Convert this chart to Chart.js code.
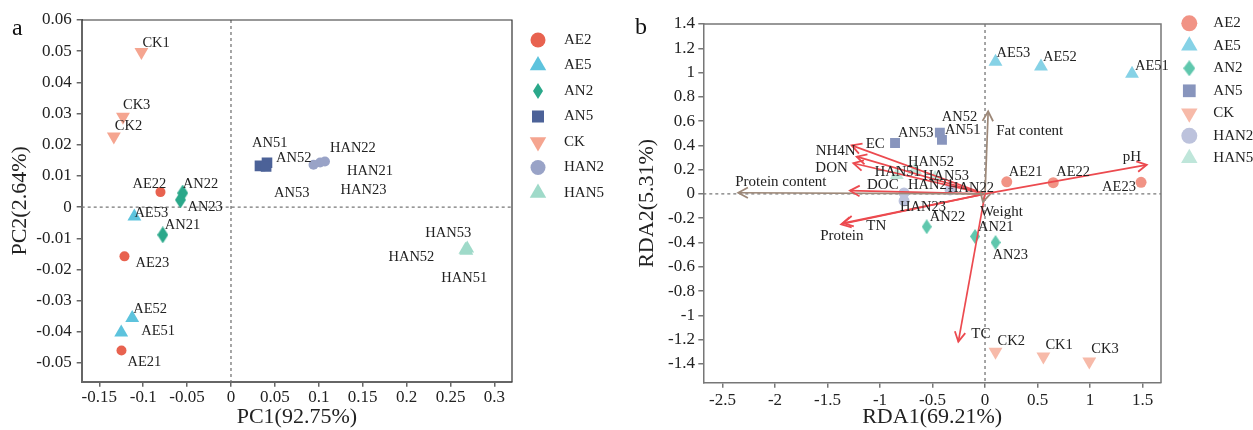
<!DOCTYPE html>
<html>
<head>
<meta charset="utf-8">
<script src="https://cdn.jsdelivr.net/npm/chart.js@4.4.1/dist/chart.umd.min.js"></script>
<style>
  body { margin: 0; background: #fff; width: 1253px; height: 430px; position: relative; overflow: hidden; }
  canvas { position: absolute; top: 0; }
  #chartA { left: 0; }
  #chartB { left: 626px; }
</style>
</head>
<body>
<canvas id="chartA" width="626" height="430"></canvas>
<canvas id="chartB" width="627" height="430"></canvas>
<script>
const FONT = "'Liberation Serif', 'Times New Roman', serif";

// groups, in legend order; every group has samples 1, 2, 3 (AE21, AE22, AE23 ...)
const groupNames = ["AE2", "AE5", "AN2", "AN5", "CK", "HAN2", "HAN5"];

// ---- panel a: PCA scores [PC1, PC2] ----
const pcaAE2 = [[-0.1247, -0.046], [-0.0803, 0.0048], [-0.1213, -0.0158]];
const pcaAE5 = [[-0.125, -0.0402], [-0.1125, -0.0356], [-0.110, -0.003]];
const pcaAN2 = [[-0.0777, -0.0089], [-0.055, 0.0045], [-0.0576, 0.0023]];
const pcaAN5 = [[0.033, 0.0132], [0.041, 0.0142], [0.040, 0.0130]];
const pcaCK = [[-0.102, 0.0497], [-0.1334, 0.0226], [-0.123, 0.029]];
const pcaHAN2 = [[0.1015, 0.0143], [0.107, 0.0146], [0.094, 0.0136]];
const pcaHAN5 = [[0.268, -0.0140], [0.267, -0.0137], [0.269, -0.0133]];
const pcaXTicks = [-0.15, -0.1, -0.05, 0, 0.05, 0.1, 0.15, 0.2, 0.25, 0.3];
const pcaYTicks = [-0.05, -0.04, -0.03, -0.02, -0.01, 0, 0.01, 0.02, 0.03, 0.04, 0.05, 0.06];

// ---- panel b: RDA site scores [RDA1, RDA2] ----
const rdaAE2 = [[0.207, 0.10], [0.65, 0.093], [1.486, 0.096]];
const rdaAE5 = [[1.40, 0.99], [0.533, 1.05], [0.10, 1.09]];
const rdaAN2 = [[-0.095, -0.35], [-0.555, -0.27], [0.10, -0.40]];
const rdaAN5 = [[-0.41, 0.445], [-0.43, 0.505], [-0.857, 0.42]];
const rdaCK = [[0.556, -1.34], [0.10, -1.30], [0.993, -1.38]];
const rdaHAN2 = [[-0.771, 0.008], [-0.333, 0.033], [-0.771, -0.058]];
const rdaHAN5 = [[-0.84, 0.156], [-0.667, 0.198], [-0.476, 0.132]];
// environmental / quality vectors
const rdaVarNames = ["pH", "Fat content", "Protein content", "EC", "NH4N", "DON", "DOC", "TN", "Protein", "TC", "Weight"];
const rdaVarX = [1.54, 0.03, -2.35, -1.27, -1.222, -1.254, -1.286, -1.35, -1.37, -0.254, -0.02];
const rdaVarY = [0.24, 0.68, 0.01, 0.40, 0.307, 0.253, 0.027, -0.24, -0.25, -1.217, -0.066];
const rdaVarIsQuality = [false, true, true, false, false, false, false, false, false, false, true];
const rdaXTicks = [-2.5, -2, -1.5, -1, -0.5, 0, 0.5, 1, 1.5];
const rdaYTicks = [-1.4, -1.2, -1, -0.8, -0.6, -0.4, -0.2, 0, 0.2, 0.4, 0.6, 0.8, 1, 1.2, 1.4];

// label placement (pixel offsets from the marker / arrow tip)
const pcaLabelOffsets = {
  AE21: [6, 12], AE22: [-28, -8], AE23: [11, 7],
  AE51: [20, -1], AE52: [1, -9], AE53: [0, -3],
  AN21: [2, -10], AN22: [0, -9], AN23: [7, 7],
  AN51: [-8, -23], AN52: [9, -5], AN53: [8, 27],
  CK1: [1, -9], CK2: [1, -10], CK3: [0, -11],
  HAN21: [27, 9], HAN22: [5, -13], HAN23: [27, 26],
  HAN51: [-25, 27], HAN52: [-77, 7], HAN53: [-42, -15]
};
const rdaLabelOffsets = {
  AE21: [2, -10], AE22: [3, -10], AE23: [-39, 5],
  AE51: [3, -8], AE52: [2, -9], AE53: [1, -8],
  AN21: [3, -9], AN22: [3, -10], AN23: [-3, 13],
  AN51: [3, -10], AN52: [2, -15], AN53: [3, -10],
  CK1: [2, -11], CK2: [2, -11], CK3: [2, -12],
  HAN21: [4, -8], HAN22: [-2, -2], HAN23: [-4, 6],
  HAN51: [-22, -3], HAN52: [-7, -8], HAN53: [-12, -2],
  "pH": [-24, -8], "Fat content": [8, 20], "Protein content": [-3, -11],
  "EC": [14, -1], "NH4N": [-41, -6], "DON": [-38, 5], "DOC": [17, -6],
  "TN": [23, 3], "Protein": [-21, 12], "TC": [13, -8], "Weight": [-3, 10]
};

const colorsA = ["#e8624f", "#5dc3dd", "#2aa88a", "#4c6298", "#f5a590", "#99a3c7", "#9fdac9"];
const colorsB = ["#f19385", "#86d2e6", "#5fc7ad", "#8895bd", "#f7baa9", "#bcc2dc", "#bfe6da"];

function diamond(color, w, h) {
  const c = document.createElement("canvas");
  c.width = w; c.height = h;
  const g = c.getContext("2d");
  g.fillStyle = color;
  g.beginPath();
  g.moveTo(w / 2, 0); g.lineTo(w, h / 2); g.lineTo(w / 2, h); g.lineTo(0, h / 2);
  g.closePath(); g.fill();
  return c;
}

function marker(group, color, s) {
  switch (group) {
    case "AE2": case "HAN2": return { pointStyle: "circle", radius: s.circle, rotation: 0 };
    case "AE5": case "HAN5": return { pointStyle: "triangle", radius: s.tri, rotation: 0 };
    case "CK": return { pointStyle: "triangle", radius: s.tri, rotation: 180 };
    case "AN5": return { pointStyle: "rect", radius: s.rect, rotation: 0 };
    default: return { pointStyle: diamond(color, s.dia[0], s.dia[1]), radius: s.circle, rotation: 0 };
  }
}

function sampleSets(points, colors, sizes, legendSizes) {
  return groupNames.map((g, k) => {
    const m = marker(g, colors[k], sizes);
    return {
      label: g,
      names: points[k].map((_, i) => g + (i + 1)),
      data: points[k].map(([x, y]) => ({ x, y })),
      pointStyle: m.pointStyle,
      pointRadius: m.radius,
      pointRotation: m.rotation,
      backgroundColor: colors[k],
      borderColor: colors[k],
      borderWidth: 0,
      legendMarker: marker(g, colors[k], legendSizes),
      order: 2
    };
  });
}

const overlay = {
  id: "overlay",
  beforeDatasetsDraw(chart, args, o) {
    const { ctx, chartArea: a, scales: { x, y } } = chart;
    const x0 = x.getPixelForValue(0), y0 = y.getPixelForValue(0);
    ctx.save();
    ctx.setLineDash([3, 3]);
    ctx.strokeStyle = "#777";
    ctx.lineWidth = 1.3;
    ctx.beginPath();
    ctx.moveTo(x0, a.top); ctx.lineTo(x0, a.bottom);
    ctx.moveTo(a.left, y0); ctx.lineTo(a.right, y0);
    ctx.stroke();
    ctx.restore();
  },
  afterDatasetsDraw(chart, args, o) {
    const { ctx, chartArea: a } = chart;
    ctx.save();
    // top and right frame
    ctx.strokeStyle = o.frameColor;
    ctx.lineWidth = o.frameWidth;
    ctx.beginPath();
    ctx.moveTo(a.left, a.top); ctx.lineTo(a.right, a.top); ctx.lineTo(a.right, a.bottom);
    ctx.stroke();

    ctx.textAlign = "left";
    ctx.textBaseline = "middle";
    ctx.fillStyle = "#222";
    chart.data.datasets.forEach((ds, di) => {
      const meta = chart.getDatasetMeta(di);
      if (ds.isArrow) {
        const p0 = meta.data[0], p1 = meta.data[1];
        const ang = Math.atan2(p1.y - p0.y, p1.x - p0.x);
        ctx.strokeStyle = ds.borderColor;
        ctx.lineWidth = 1.8;
        ctx.beginPath();
        ctx.moveTo(p1.x - 11 * Math.cos(ang - 0.5), p1.y - 11 * Math.sin(ang - 0.5));
        ctx.lineTo(p1.x, p1.y);
        ctx.lineTo(p1.x - 11 * Math.cos(ang + 0.5), p1.y - 11 * Math.sin(ang + 0.5));
        ctx.stroke();
        const off = o.offsets[ds.label] || [4, -6];
        ctx.font = o.arrowFont;
        ctx.fillText(ds.label, p1.x + off[0], p1.y + off[1]);
      } else {
        ctx.font = o.labelFont;
        meta.data.forEach((pt, i) => {
          const name = ds.names[i];
          const off = o.offsets[name] || [4, -8];
          ctx.fillText(name, pt.x + off[0], pt.y + off[1]);
        });
      }
    });

    // legend
    const L = o.legend;
    let row = 0;
    chart.data.datasets.forEach(ds => {
      if (ds.isArrow) return;
      const y = L.y + row * L.dy;
      ctx.fillStyle = ds.backgroundColor;
      Chart.helpers.drawPoint(ctx, Object.assign({ borderWidth: 0 }, ds.legendMarker), L.x, y);
      ctx.fillStyle = "#222";
      ctx.font = L.font;
      ctx.fillText(ds.label, L.textX, y);
      row++;
    });

    // panel letter
    ctx.font = "24px " + FONT;
    ctx.fillStyle = "#111";
    ctx.fillText(o.letter[0], o.letter[1], o.letter[2]);
    ctx.restore();
  }
};

function axis(min, max, ticks, title, o) {
  return {
    type: "linear", min, max,
    afterBuildTicks: s => { s.ticks = ticks.map(v => ({ value: v })); },
    afterFit: s => { if (o.width) s.width = o.width; if (o.height) s.height = o.height; },
    ticks: {
      autoSkip: false, maxRotation: 0, padding: o.pad, color: "#222",
      font: { family: FONT, size: 17 },
      callback: v => String(v)
    },
    grid: { drawOnChartArea: false, drawTicks: true, tickLength: 5, color: o.axisColor, lineWidth: 1.5 },
    border: { display: true, color: o.axisColor, width: o.axisWidth },
    title: { display: true, text: title, color: "#222", font: { family: FONT, size: 22 }, padding: o.titlePad }
  };
}

const baseOptions = {
  responsive: false,
  animation: false,
  events: [],
  plugins: { legend: { display: false }, tooltip: { enabled: false } }
};

// ---------- panel a ----------
const pcaPoints = [pcaAE2, pcaAE5, pcaAN2, pcaAN5, pcaCK, pcaHAN2, pcaHAN5];
new Chart(document.getElementById("chartA"), {
  type: "scatter",
  data: {
    datasets: sampleSets(pcaPoints, colorsA,
      { circle: 5, tri: 8, rect: 7.5, dia: [11, 17] },
      { circle: 7.5, tri: 9.5, rect: 8.5, dia: [10, 16] })
  },
  options: Object.assign({}, baseOptions, {
    layout: { padding: { left: 0, right: 114, top: 20, bottom: 0 } },
    scales: {
      x: axis(-0.17, 0.32, pcaXTicks, "PC1(92.75%)",
        { height: 48.3, pad: 0.5, axisColor: "#666", axisWidth: 2, titlePad: 0 }),
      y: axis(-0.056, 0.06, pcaYTicks, "PC2(2.64%)",
        { width: 81.7, pad: 5, axisColor: "#666", axisWidth: 2, titlePad: 7 })
    },
    plugins: Object.assign({}, baseOptions.plugins, {
      overlay: {
        frameColor: "#333", frameWidth: 1.2,
        offsets: pcaLabelOffsets,
        labelFont: "14.5px " + FONT,
        arrowFont: "14.5px " + FONT,
        legend: { x: 538, textX: 564, y: 40, dy: 25.5, font: "15px " + FONT },
        letter: ["a", 12, 29]
      }
    })
  }),
  plugins: [overlay]
});

// ---------- panel b ----------
const rdaPoints = [rdaAE2, rdaAE5, rdaAN2, rdaAN5, rdaCK, rdaHAN2, rdaHAN5];
const arrowSets = rdaVarNames.map((n, i) => ({
  label: n,
  isArrow: true,
  data: [{ x: 0, y: 0 }, { x: rdaVarX[i], y: rdaVarY[i] }],
  showLine: true,
  pointRadius: 0,
  borderColor: rdaVarIsQuality[i] ? "#9d8878" : "#ec4a4f",
  borderWidth: 1.7,
  order: 1
}));
new Chart(document.getElementById("chartB"), {
  type: "scatter",
  data: {
    datasets: sampleSets(rdaPoints, colorsB,
      { circle: 5.5, tri: 8, rect: 7, dia: [10, 15] },
      { circle: 8, tri: 9.5, rect: 9, dia: [12, 16] }).concat(arrowSets)
  },
  options: Object.assign({}, baseOptions, {
    layout: { padding: { left: 0, right: 92, top: 24, bottom: 0 } },
    scales: {
      x: axis(-2.683, 1.676, rdaXTicks, "RDA1(69.21%)",
        { height: 47.3, pad: 2.5, axisColor: "#777", axisWidth: 1.5, titlePad: 0 }),
      y: axis(-1.555, 1.4, rdaYTicks, "RDA2(5.31%)",
        { width: 77.3, pad: 3.3, axisColor: "#777", axisWidth: 1.5, titlePad: 8 })
    },
    plugins: Object.assign({}, baseOptions.plugins, {
      overlay: {
        frameColor: "#777", frameWidth: 1.5,
        offsets: rdaLabelOffsets,
        labelFont: "14.5px " + FONT,
        arrowFont: "15px " + FONT,
        legend: { x: 563.3, textX: 587.3, y: 23.3, dy: 22.5, font: "15px " + FONT },
        letter: ["b", 9, 28]
      }
    })
  }),
  plugins: [overlay]
});
</script>
</body>
</html>
